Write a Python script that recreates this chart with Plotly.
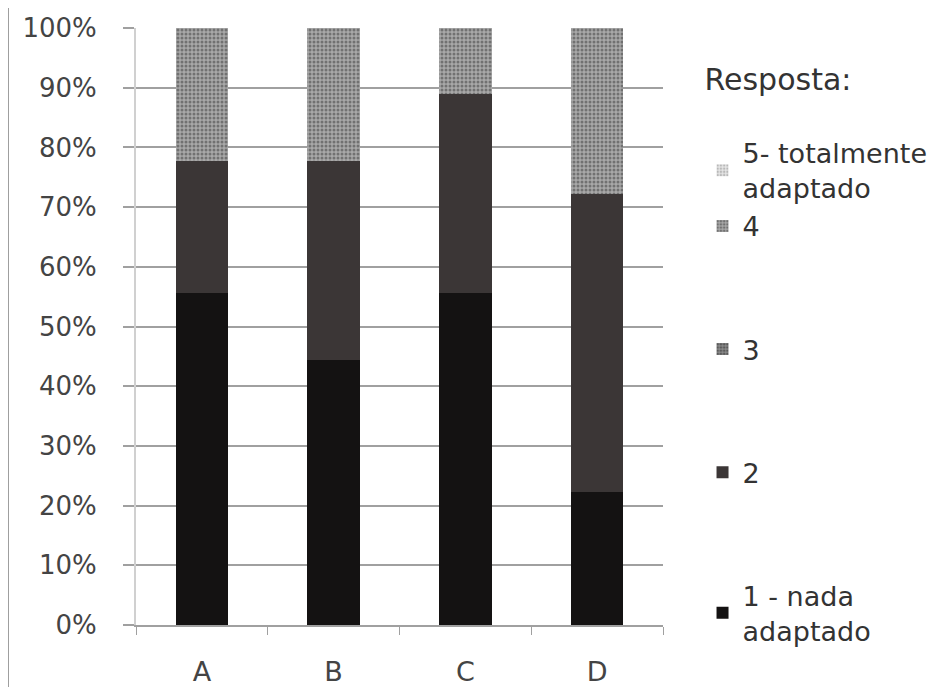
import plotly.graph_objects as go

categories = ["A", "B", "C", "D"]
s1 = [55.6, 44.4, 55.6, 22.2]
s2 = [22.2, 33.3, 33.3, 50.0]
s3 = [0, 0, 0, 0]
s4 = [22.2, 22.3, 11.1, 27.8]
s5 = [0, 0, 0, 0]
series_names = ["1 - nada<br>adaptado", "2", "3", "4", "5- totalmente<br>adaptado"]
tick_vals = [0, 10, 20, 30, 40, 50, 60, 70, 80, 90, 100]
tick_text = [f"{v}%" for v in tick_vals]

fig = go.Figure()
styles = [
    dict(color="#141212"),
    dict(color="#3b3636"),
    dict(color="#6a6a6a", pattern=dict(shape=".", fgcolor="#2a2a2a", bgcolor="#8a8a8a", size=4, solidity=0.5)),
    dict(color="#8a8a8a", pattern=dict(shape=".", fgcolor="#3a3a3a", bgcolor="#a8a8a8", size=4, solidity=0.45)),
    dict(color="#cfcfcf", pattern=dict(shape=".", fgcolor="#8a8a8a", bgcolor="#e6e6e6", size=4, solidity=0.4)),
]
groups = ["g1", "g2", "g3", "g45", "g45"]
ranks = [5, 4, 3, 2, 1]
for vals, name, st, g, r in zip([s1, s2, s3, s4, s5], series_names, styles, groups, ranks):
    fig.add_trace(go.Bar(x=categories, y=vals, name=name, marker=dict(line=dict(width=0), **st),
                         legendgroup=g, legendrank=r))

fig.update_layout(
    barmode="stack",
    bargap=0.6,
    width=940, height=687,
    margin=dict(l=128, r=285, t=20, b=70),
    plot_bgcolor="white", paper_bgcolor="white",
    font=dict(family="DejaVu Sans, sans-serif", size=26, color="#333333"),
    legend=dict(
        title=dict(text="Resposta:<br> ", font=dict(size=30)),
        traceorder="grouped",
        tracegroupgap=85,
        x=1.075, xanchor="left", y=0.962, yanchor="top",
        font=dict(size=27, color="#333333"),
        itemwidth=30,
    ),
    showlegend=True,
)
fig.update_yaxes(
    range=[0, 100], tickvals=tick_vals, ticktext=tick_text,
    showgrid=True, gridcolor="#a0a0a0", gridwidth=2,
    ticks="outside", ticklen=11, tickcolor="#a0a0a0", tickwidth=2,
    ticklabelstandoff=21,
    showline=True, linecolor="#d0d0d0", linewidth=2,
    zeroline=False, tickfont=dict(size=26, color="#444444"),
    automargin=False,
)
fig.update_xaxes(
    showline=True, linecolor="#a0a0a0", linewidth=2,
    ticks="outside", tickson="boundaries", ticklen=8, tickcolor="#a0a0a0",
    ticklabelstandoff=22,
    tickfont=dict(size=27, color="#444444"),
    automargin=False,
)
fig.add_shape(type="line", xref="paper", yref="paper", x0=-0.243, x1=-0.243, y0=-0.2, y1=1.1,
              line=dict(color="#999999", width=2))
fig.write_html("out.html")
